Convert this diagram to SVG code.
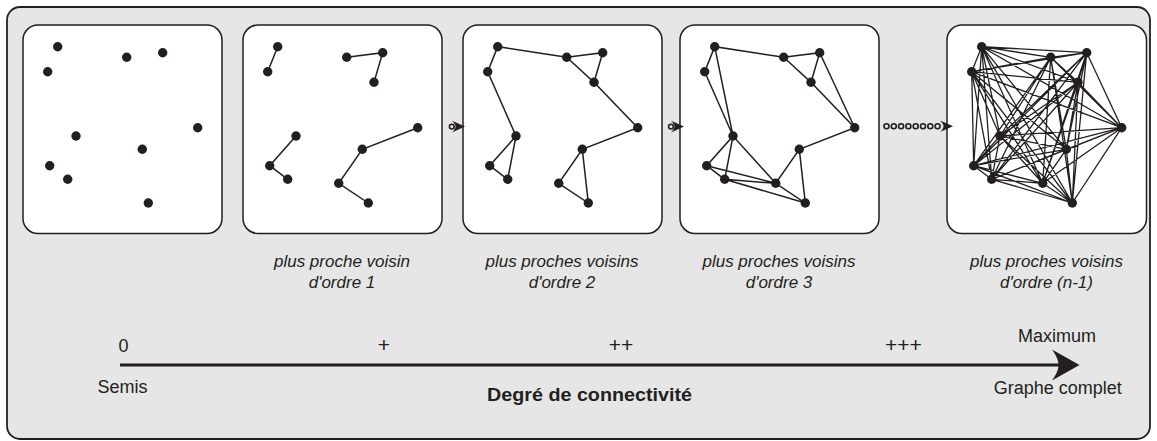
<svg xmlns="http://www.w3.org/2000/svg" xmlns:xlink="http://www.w3.org/1999/xlink" width="1157" height="441" viewBox="0 0 1157 441">
<style>
.frame{fill:#e6e6e6;stroke:#231f20;stroke-width:1.8}
.panel{fill:#ffffff;stroke:#231f20;stroke-width:1.5}
.dot{fill:#231f20}
.edge{fill:none;stroke:#231f20;stroke-width:1.5;stroke-linecap:round}
.edgek{fill:none;stroke:#231f20;stroke-width:1.3;stroke-linecap:round}
.lbl{font-family:"Liberation Sans",Arial,sans-serif;font-style:italic;font-size:17px;fill:#231f20;text-anchor:middle}
.txt{font-family:"Liberation Sans",Arial,sans-serif;font-size:18px;fill:#231f20;text-anchor:middle}
.plus{font-family:"Liberation Sans",Arial,sans-serif;font-size:21px;fill:#231f20;text-anchor:middle}
.bold{font-family:"Liberation Sans",Arial,sans-serif;font-size:19px;font-weight:bold;fill:#231f20;text-anchor:middle}
.ring{fill:none;stroke:#231f20;stroke-width:1.6}
.head{fill:#231f20}
.axis{stroke:#231f20;stroke-width:3;fill:none}
</style>
<defs>
<g id="dA"><circle class="dot" cx="34.7" cy="46.7" r="4.7"/></g>
<g id="dB"><circle class="dot" cx="24.7" cy="71.7" r="4.7"/></g>
<g id="dC"><circle class="dot" cx="103.7" cy="57.3" r="4.7"/></g>
<g id="dD"><circle class="dot" cx="139.7" cy="52.7" r="4.7"/></g>
<g id="dE"><circle class="dot" cx="131" cy="82.3" r="4.7"/></g>
<g id="dF"><circle class="dot" cx="174.7" cy="127.7" r="4.7"/></g>
<g id="dG"><circle class="dot" cx="119.3" cy="149.3" r="4.7"/></g>
<g id="dH"><circle class="dot" cx="53" cy="136" r="4.7"/></g>
<g id="dI"><circle class="dot" cx="26.7" cy="165.7" r="4.7"/></g>
<g id="dJ"><circle class="dot" cx="44.7" cy="179.3" r="4.7"/></g>
<g id="dK"><circle class="dot" cx="95.7" cy="183.3" r="4.7"/></g>
<g id="dL"><circle class="dot" cx="125.3" cy="203" r="4.7"/></g>
<g id="allDots">
<use xlink:href="#dA"/><use xlink:href="#dB"/><use xlink:href="#dC"/><use xlink:href="#dD"/><use xlink:href="#dE"/><use xlink:href="#dF"/><use xlink:href="#dG"/><use xlink:href="#dH"/><use xlink:href="#dI"/><use xlink:href="#dJ"/><use xlink:href="#dK"/><use xlink:href="#dL"/>
</g>
<path id="smallHead" d="M0,0 L-13,-5.8 C-10,-3 -9.5,-1.2 -9.5,0 C-9.5,1.2 -10,3 -13,5.8 Z"/>
</defs>

<rect class="frame" x="7" y="7" width="1143" height="432" rx="13"/>

<g id="panel1">
<rect class="panel" x="23" y="25" width="199" height="208.5" rx="15"/>
<g transform="translate(23,0)">
<use xlink:href="#dA"/><use xlink:href="#dB"/><use xlink:href="#dC"/><use xlink:href="#dD"/><use xlink:href="#dF"/><use xlink:href="#dG"/><use xlink:href="#dH"/><use xlink:href="#dI"/><use xlink:href="#dJ"/><use xlink:href="#dL"/>
</g>
</g>

<g id="panel2">
<rect class="panel" x="243" y="25" width="199" height="208.5" rx="15"/>
<g transform="translate(243,0)">
<path class="edge" d="M34.7,46.7 L24.7,71.7 M103.7,57.3 L139.7,52.7 L131,82.3 M53,136 L26.7,165.7 L44.7,179.3 M174.7,127.7 L119.3,149.3 L95.7,183.3 L125.3,203"/>
<use xlink:href="#allDots"/>
</g>
<text class="lbl" x="342" y="266.7">plus proche voisin</text>
<text class="lbl" x="342" y="288.3">d'ordre 1</text>
</g>

<g id="panel3">
<rect class="panel" x="463" y="25" width="199" height="208.5" rx="15"/>
<g transform="translate(463,0)">
<path class="edge" d="M24.7,71.7 L34.7,46.7 L103.7,57.3 L139.7,52.7 L131,82.3 L103.7,57.3 M131,82.3 L174.7,127.7 L119.3,149.3 L95.7,183.3 L125.3,203 L119.3,149.3 M24.7,71.7 L53,136 L26.7,165.7 L44.7,179.3 L53,136"/>
<use xlink:href="#allDots"/>
</g>
<text class="lbl" x="562" y="266.7">plus proches voisins</text>
<text class="lbl" x="562" y="288.3">d'ordre 2</text>
</g>

<g id="panel4">
<rect class="panel" x="680" y="25" width="199" height="208.5" rx="15"/>
<g transform="translate(680,0)">
<path class="edge" d="M24.7,71.7 L34.7,46.7 L103.7,57.3 L139.7,52.7 L131,82.3 L103.7,57.3 M139.7,52.7 L174.7,127.7 M131,82.3 L174.7,127.7 L119.3,149.3 L95.7,183.3 L125.3,203 L119.3,149.3 M34.7,46.7 L53,136 M24.7,71.7 L53,136 L26.7,165.7 L44.7,179.3 L53,136 L95.7,183.3 M26.7,165.7 L95.7,183.3 M44.7,179.3 L95.7,183.3 M44.7,179.3 L125.3,203"/>
<use xlink:href="#allDots"/>
</g>
<text class="lbl" x="779" y="266.7">plus proches voisins</text>
<text class="lbl" x="779" y="288.3">d'ordre 3</text>
</g>

<g id="panel5">
<rect class="panel" x="947" y="25" width="199.5" height="208.5" rx="15"/>
<g transform="translate(947,0)">
<path class="edgek" d="M34.7,46.7 L24.7,71.7 M34.7,46.7 L103.7,57.3 M34.7,46.7 L139.7,52.7 M34.7,46.7 L131,82.3 M34.7,46.7 L174.7,127.7 M34.7,46.7 L119.3,149.3 M34.7,46.7 L53,136 M34.7,46.7 L26.7,165.7 M34.7,46.7 L44.7,179.3 M34.7,46.7 L95.7,183.3 M34.7,46.7 L125.3,203
M24.7,71.7 L103.7,57.3 M24.7,71.7 L139.7,52.7 M24.7,71.7 L131,82.3 M24.7,71.7 L174.7,127.7 M24.7,71.7 L119.3,149.3 M24.7,71.7 L53,136 M24.7,71.7 L26.7,165.7 M24.7,71.7 L44.7,179.3 M24.7,71.7 L95.7,183.3 M24.7,71.7 L125.3,203
M103.7,57.3 L139.7,52.7 M103.7,57.3 L131,82.3 M103.7,57.3 L174.7,127.7 M103.7,57.3 L119.3,149.3 M103.7,57.3 L53,136 M103.7,57.3 L26.7,165.7 M103.7,57.3 L44.7,179.3 M103.7,57.3 L95.7,183.3 M103.7,57.3 L125.3,203
M139.7,52.7 L131,82.3 M139.7,52.7 L174.7,127.7 M139.7,52.7 L119.3,149.3 M139.7,52.7 L53,136 M139.7,52.7 L26.7,165.7 M139.7,52.7 L44.7,179.3 M139.7,52.7 L95.7,183.3 M139.7,52.7 L125.3,203
M131,82.3 L174.7,127.7 M131,82.3 L119.3,149.3 M131,82.3 L53,136 M131,82.3 L26.7,165.7 M131,82.3 L44.7,179.3 M131,82.3 L95.7,183.3 M131,82.3 L125.3,203
M174.7,127.7 L119.3,149.3 M174.7,127.7 L53,136 M174.7,127.7 L26.7,165.7 M174.7,127.7 L44.7,179.3 M174.7,127.7 L95.7,183.3 M174.7,127.7 L125.3,203
M119.3,149.3 L53,136 M119.3,149.3 L26.7,165.7 M119.3,149.3 L44.7,179.3 M119.3,149.3 L95.7,183.3 M119.3,149.3 L125.3,203
M53,136 L26.7,165.7 M53,136 L44.7,179.3 M53,136 L95.7,183.3 M53,136 L125.3,203
M26.7,165.7 L44.7,179.3 M26.7,165.7 L95.7,183.3 M26.7,165.7 L125.3,203
M44.7,179.3 L95.7,183.3 M44.7,179.3 L125.3,203
M95.7,183.3 L125.3,203"/>
<use xlink:href="#allDots"/>
</g>
<text class="lbl" x="1046.5" y="266.7">plus proches voisins</text>
<text class="lbl" x="1046.5" y="288.3">d'ordre (n-1)</text>
</g>

<g id="connectors">
<circle class="ring" cx="451.8" cy="126.6" r="2.4"/>
<use xlink:href="#smallHead" class="head" transform="translate(465,126.6)"/>
<circle class="ring" cx="671" cy="126.6" r="2.4"/>
<use xlink:href="#smallHead" class="head" transform="translate(684,126.6)"/>
<circle class="ring" cx="886.5" cy="126.3" r="2.5"/>
<circle class="ring" cx="893.8" cy="126.3" r="2.5"/>
<circle class="ring" cx="901.1" cy="126.3" r="2.5"/>
<circle class="ring" cx="908.4" cy="126.3" r="2.5"/>
<circle class="ring" cx="915.7" cy="126.3" r="2.5"/>
<circle class="ring" cx="923" cy="126.3" r="2.5"/>
<circle class="ring" cx="930.3" cy="126.3" r="2.5"/>
<circle class="ring" cx="937.6" cy="126.3" r="2.5"/>
<use xlink:href="#smallHead" class="head" transform="translate(953,126.3)"/>
</g>

<g id="axis">
<line class="axis" x1="120" y1="365" x2="1062" y2="365"/>
<path class="head" d="M1079.5,365 L1052,349.5 C1056.5,356 1058.5,360.5 1058.5,365 C1058.5,369.5 1056.5,374 1052,380.5 Z"/>
<text class="txt" x="123.5" y="351.7">0</text>
<text class="plus" x="384" y="351.5">+</text>
<text class="plus" x="621" y="351.5">++</text>
<text class="plus" x="903.3" y="351.5">+++</text>
<text class="txt" x="1057" y="341.7">Maximum</text>
<text class="txt" x="122.5" y="393.3">Semis</text>
<text class="txt" x="1057.7" y="394">Graphe complet</text>
<text class="bold" x="589.5" y="400.7" textLength="205" lengthAdjust="spacingAndGlyphs">Degré de connectivité</text>
</g>
</svg>
